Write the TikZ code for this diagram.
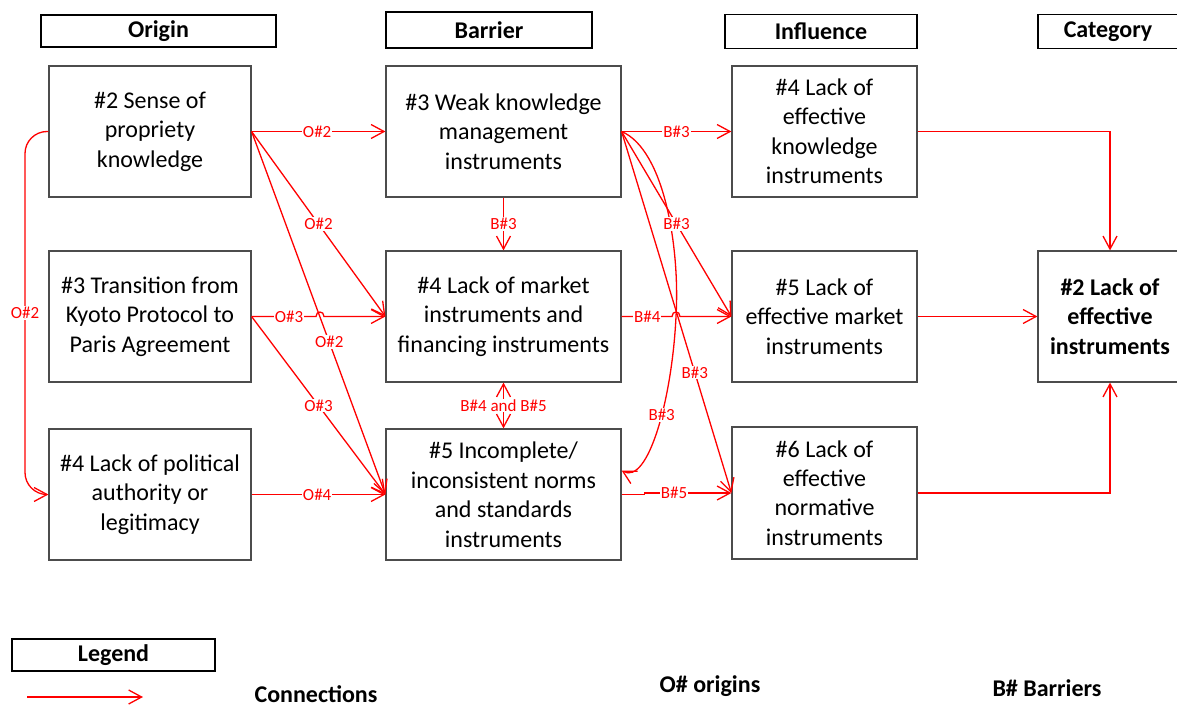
\documentclass[tikz,border=0pt]{standalone}
\usepackage{fontspec}
\setmainfont{Carlito}
\usetikzlibrary{arrows.meta}
\begin{document}
\begin{tikzpicture}[x=1pt,y=-1pt,
  box/.style={draw=black!70, line width=1.2pt, align=center, inner sep=0pt,
    font=\fontsize{24}{29.5}\selectfont},
  head/.style={draw=black, line width=1.6pt, inner sep=0pt,
    font=\fontsize{24}{29}\selectfont\bfseries},
  conn/.style={red, line width=1.3pt, -{Straight Barb[length=13pt,width=14pt]}},
  lab/.style={fill=white, text=red, inner sep=1pt, font=\fontsize{17}{17}\selectfont},
  legtext/.style={font=\fontsize{24}{29}\selectfont\bfseries, inner sep=0pt},
]
\useasboundingbox (0,0) rectangle (1177,706);

% column headers
\node[head, minimum width=235pt, minimum height=32pt] (hO) at (158.5,31) {Origin};
\node[head, minimum width=206pt, minimum height=36pt] (hB) at (489,30) {Barrier};
\node[head, minimum width=192pt, minimum height=34pt] (hI) at (821,31.5) {Influence};
\node[head, minimum width=140pt, minimum height=34pt] (hC) at (1108,31.5) {Category};

% origins
\node[box, minimum width=202pt, minimum height=131pt] (o1) at (150,131.5)
  {\#2 Sense of\\propriety\\knowledge};
\node[box, minimum width=202pt, minimum height=131pt] (o2) at (150,316.5)
  {\#3 Transition from\\Kyoto Protocol to\\Paris Agreement};
\node[box, minimum width=202pt, minimum height=131pt] (o3) at (150,494.5)
  {\#4 Lack of political\\authority or\\legitimacy};

% barriers
\node[box, minimum width=235pt, minimum height=131pt] (b1) at (503.5,131.5)
  {\#3 Weak knowledge\\management\\instruments};
\node[box, minimum width=235pt, minimum height=131pt] (b2) at (503.5,316.5)
  {\#4 Lack of market\\instruments and\\financing instruments};
\node[box, minimum width=235pt, minimum height=131pt] (b3) at (503.5,494.5)
  {\#5 Incomplete/\\inconsistent norms\\and standards\\instruments};

% influences
\node[box, minimum width=185pt, minimum height=131pt] (i1) at (824.5,131.5)
  {\#4 Lack of\\effective\\knowledge\\instruments};
\node[box, minimum width=185pt, minimum height=131pt] (i2) at (824.5,316.5)
  {\#5 Lack of\\effective market\\instruments};
\node[box, minimum width=185pt, minimum height=132pt] (i3) at (824.5,493)
  {\#6 Lack of\\effective\\normative\\instruments};

% category
\node[box, minimum width=144pt, minimum height=131pt, font=\fontsize{24}{29.5}\selectfont\bfseries]
  (c) at (1110,316.5) {\#2 Lack of\\effective\\instruments};

% origin -> barrier connections
\draw[conn] (o1.east) -- node[lab,pos=.49]{O\#2} (b1.west);
\draw[conn] (o1.east) -- node[lab,pos=.5]{O\#2} (b2.west);
\draw[conn] (o1.east) -- node[lab,pos=.58]{O\#2} (b3.west);
\draw[conn] (o2.east) -- node[lab,pos=.58]{O\#3} (316,316.5)
  .. controls (316,310.5) and (324,310.5) .. (324,316.5) -- (b2.west);
\draw[conn] (o2.east) -- node[lab,pos=.5]{O\#3} (b3.west);
\draw[conn] (o3.east) -- node[lab,pos=.49]{O\#4} (b3.west);
\draw[conn, rounded corners=22pt] (o1.west) -- (25,131.5)
  -- node[lab,pos=.5]{O\#2} (25,494.5) -- (o3.west);

% barrier -> barrier
\draw[conn] (b1.south) -- node[lab]{B\#3} (b2.north);
\draw[red, line width=1.3pt, {Straight Barb[length=13pt,width=14pt]}-{Straight Barb[length=13pt,width=14pt]}]
  (b2.south) -- node[lab]{B\#4 and B\#5} (b3.north);
\draw[conn] (b1.east) .. controls (665,150) and (680,250) .. (676,316.5)
  .. controls (672,400) and (648,485) .. node[lab,pos=.42]{B\#3} ([yshift=24pt]b3.east);

% barrier -> influence
\draw[conn] (b1.east) -- node[lab,pos=.5]{B\#3} (i1.west);
\draw[conn] (b1.east) -- node[lab,pos=.5]{B\#3} (i2.west);
\draw[conn] (b1.east) -- node[lab,pos=.667]{B\#3} (i3.west);
\draw[conn] (b2.east) -- node[lab,pos=.51]{B\#4} (672,316.5)
  .. controls (672,310.5) and (680,310.5) .. (680,316.5) -- (i2.west);
\draw[conn] (b3.east) -- ++(23,0) |- node[lab,pos=.67]{B\#5} (i3.west);

% influence -> category
\draw[conn] (i1.east) -| (c.north);
\draw[conn] (i2.east) -- (c.west);
\draw[conn] (i3.east) -| (c.south);

% legend
\node[head, minimum width=203pt, minimum height=32pt] (leg) at (113.5,655) {Legend};
\coordinate (la) at (27,697);
\coordinate (lb) at (143,697);
\draw[conn] (la) -- (lb);
\node[legtext] (lconn) at (316,694) {Connections};
\node[legtext] (lorig) at (710,686) {O\# origins};
\node[legtext] (lbarr) at (1047,688) {B\# Barriers};
\end{tikzpicture}
\end{document}
